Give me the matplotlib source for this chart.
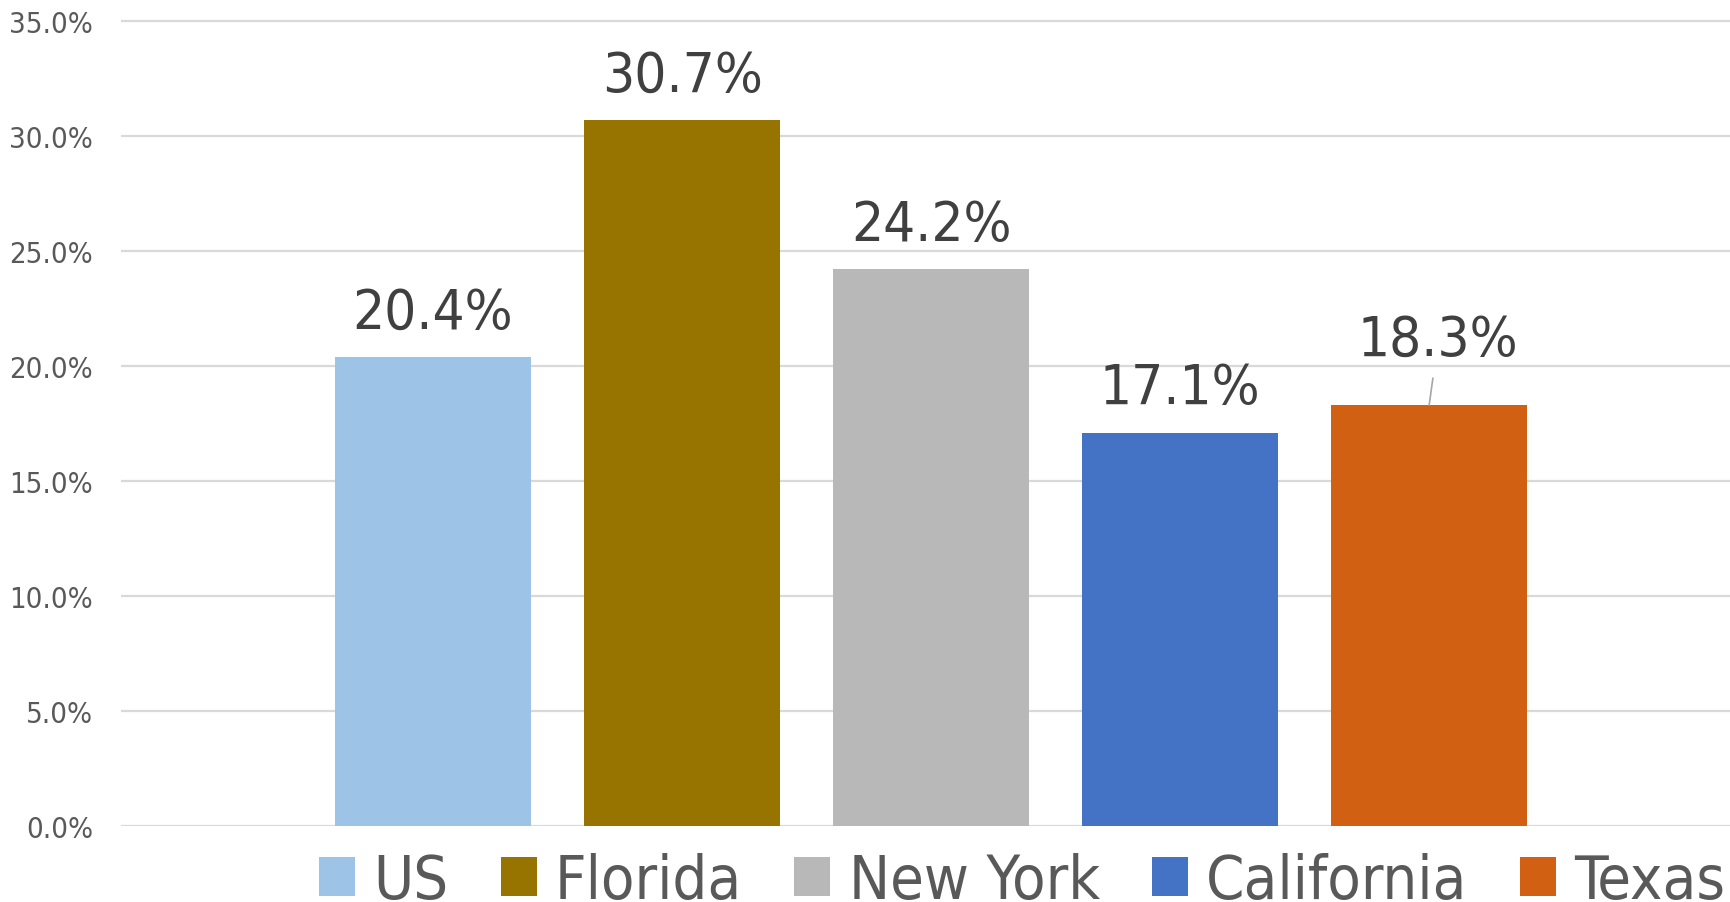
import matplotlib
matplotlib.use("Agg")
import matplotlib.pyplot as plt
from matplotlib import font_manager
from matplotlib.font_manager import FontProperties
from matplotlib.textpath import TextPath
from matplotlib.patches import Patch

categories = ["US", "Florida", "New York", "California", "Texas"]
values = [0.204, 0.307, 0.242, 0.171, 0.183]
value_labels = ["20.4%", "30.7%", "24.2%", "17.1%", "18.3%"]
yticks = [0.0, 0.05, 0.10, 0.15, 0.20, 0.25, 0.30, 0.35]
ytick_labels = ["0.0%", "5.0%", "10.0%", "15.0%", "20.0%", "25.0%", "30.0%", "35.0%"]
colors = ["#9DC3E6", "#977300", "#B8B8B8", "#4472C4", "#D26013"]

DPI = 100
fp = FontProperties(family="DejaVu Sans", stretch="condensed")
path = font_manager.findfont(fp)
stretch = "condensed" if "Condensed" in path else "normal"
plt.rcParams["font.family"] = ["DejaVu Sans"]
plt.rcParams["font.stretch"] = stretch
prop = FontProperties(family="DejaVu Sans", stretch=stretch)


def size_for(text, target_px):
    w = TextPath((0, 0), text, size=100, prop=prop).get_extents().width / 100.0
    return target_px / (w * DPI / 72.0)


tick_fs = size_for("35.0%", 80)
val_fs = size_for("30.7%", 154)
leg_fs = size_for("New York", 246)

fig = plt.figure(figsize=(17.31, 9.03), dpi=DPI)
ax = fig.add_axes([0.0699, 0.0842, 0.9301, 0.8915 * 0.352 / 0.35])

x = list(range(len(categories)))
ax.bar(x, values, width=0.787, color=colors, zorder=2)

ax.set_xlim(-1.253, 5.212)
ax.set_ylim(0, 0.352)
ax.set_yticks(yticks)
ax.set_yticklabels(ytick_labels)
ax.tick_params(axis="y", length=0, pad=20, labelsize=tick_fs, labelcolor="#595959")
ax.set_xticks([])
ax.yaxis.grid(True, color="#D9D9D9", linewidth=1.6, zorder=0)
for s in ax.spines.values():
    s.set_visible(False)

for i, (v, lab) in enumerate(zip(values, value_labels)):
    if categories[i] == "Texas":
        ax.annotate(lab, xy=(i, v), xytext=(6.5, 36), textcoords="offset points",
                    ha="center", va="baseline", fontsize=val_fs, color="#404040",
                    arrowprops=dict(arrowstyle="-", color="#A6A6A6", lw=1.2,
                                    shrinkA=6, shrinkB=0))
    else:
        ax.annotate(lab, xy=(i, v), xytext=(0, 21), textcoords="offset points",
                    ha="center", va="baseline", fontsize=val_fs, color="#404040")

leg_px = leg_fs * DPI / 72.0
sq = 36.0 / leg_px
handles = [Patch(facecolor=c, edgecolor="none") for c in colors]
fig.legend(handles, categories, loc="center", bbox_to_anchor=(0.5905, 0.0225),
           ncol=5, frameon=False, fontsize=leg_fs, labelcolor="#595959",
           handlelength=sq, handleheight=sq, handletextpad=0.3,
           columnspacing=0.85, borderpad=0, borderaxespad=0)

fig.savefig("out.png", dpi=DPI)
